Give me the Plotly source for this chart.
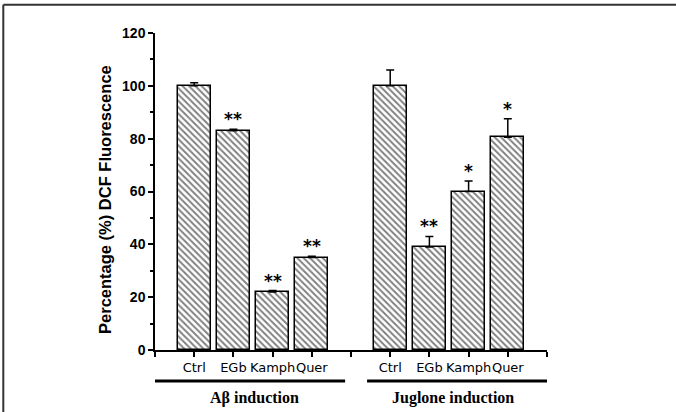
import plotly.graph_objects as go

categories = ["Ctrl", "EGb", "Kamph", "Quer"]
groups = ["Aβ induction", "Juglone induction"]
ab_values = [100, 83, 22, 35]
ab_err = [1.2, 0.6, 0.5, 0.5]
ab_sig = ["", "**", "**", "**"]
jug_values = [100, 39, 60, 80.5]
jug_err = [6, 4, 4, 7]
jug_sig = ["", "**", "*", "*"]
y_title = "Percentage (%) DCF Fluorescence"

ab_x = [1, 2, 3, 4]
jug_x = [6, 7, 8, 9]

fig = go.Figure()
for xs, vals, errs in [(ab_x, ab_values, ab_err), (jug_x, jug_values, jug_err)]:
    fig.add_trace(go.Bar(
        x=xs, y=vals, width=0.84,
        marker=dict(color="white", line=dict(color="black", width=1.5),
                    pattern=dict(shape="\\", fgcolor="black", bgcolor="white",
                                 size=4.5, solidity=0.42)),
        error_y=dict(type="data", symmetric=False, array=errs,
                     arrayminus=[0] * len(errs), color="black",
                     thickness=1.5, width=4),
        showlegend=False,
    ))

for xs, vals, errs, sigs in [(ab_x, ab_values, ab_err, ab_sig),
                             (jug_x, jug_values, jug_err, jug_sig)]:
    for x, v, e, s in zip(xs, vals, errs, sigs):
        if s:
            fig.add_annotation(x=x, y=v + e, text=s, showarrow=False,
                               yanchor="bottom", yshift=-2,
                               font=dict(family="DejaVu Sans", size=17, color="black",
                                         weight="bold"))

tickvals = list(range(0, 11))
ticktext = [""] + categories + [""] + categories + [""]

fig.update_layout(
    width=676, height=412,
    margin=dict(l=155, r=129, t=33, b=62, autoexpand=False),
    plot_bgcolor="white", paper_bgcolor="white",
    bargap=0,
    xaxis=dict(range=[0, 10], tickvals=tickvals, ticktext=ticktext,
               tickangle=0, automargin=False,
               showline=True, linecolor="black", linewidth=1.5,
               ticks="outside", ticklen=5, tickwidth=1.5, tickcolor="black",
               showgrid=False, zeroline=False,
               tickfont=dict(family="DejaVu Sans", size=13, color="black")),
    yaxis=dict(range=[0, 120], tickvals=[0, 20, 40, 60, 80, 100, 120],
               automargin=False,
               showline=True, linecolor="black", linewidth=1.5,
               ticks="outside", ticklen=5, tickwidth=1.5, tickcolor="black",
               minor=dict(tickvals=[10, 30, 50, 70, 90, 110], ticks="outside",
                          ticklen=3, tickwidth=1.5, tickcolor="black"),
               showgrid=False, zeroline=False,
               tickfont=dict(family="Liberation Sans", size=14, color="black", weight="bold")),
)

# y-axis title
fig.add_annotation(x=-0.128, xref="paper", y=0.476, yref="paper",
                   text="<b>" + y_title + "</b>", textangle=-90, showarrow=False,
                   xanchor="center", yanchor="middle",
                   font=dict(family="Liberation Sans", size=16.5, color="black"))

# group underline bars and labels
for (x0, x1, xc), label in zip([(-0.05, 4.85, 2.55), (5.41, 10.13, 7.6)], groups):
    fig.add_shape(type="line", xref="x", yref="paper", x0=x0, x1=x1,
                  y0=-0.098, y1=-0.098, line=dict(color="black", width=3))
    fig.add_annotation(x=xc, xref="x", y=-0.15, yref="paper", text="<b>" + label + "</b>",
                       showarrow=False, yanchor="middle",
                       font=dict(family="Liberation Serif", size=16, color="black"))

# image frame (top and left edges)
fig.add_shape(type="line", xref="paper", yref="paper", x0=-0.387, x1=1.4,
              y0=1.089, y1=1.089, line=dict(color="#333333", width=2))
fig.add_shape(type="line", xref="paper", yref="paper", x0=-0.387, x1=-0.387,
              y0=1.089, y1=-0.3, line=dict(color="#333333", width=2))

fig.write_html("out.html", config={"displayModeBar": False},
               post_script="document.body.style.margin='0px';document.body.style.overflow='hidden';")
